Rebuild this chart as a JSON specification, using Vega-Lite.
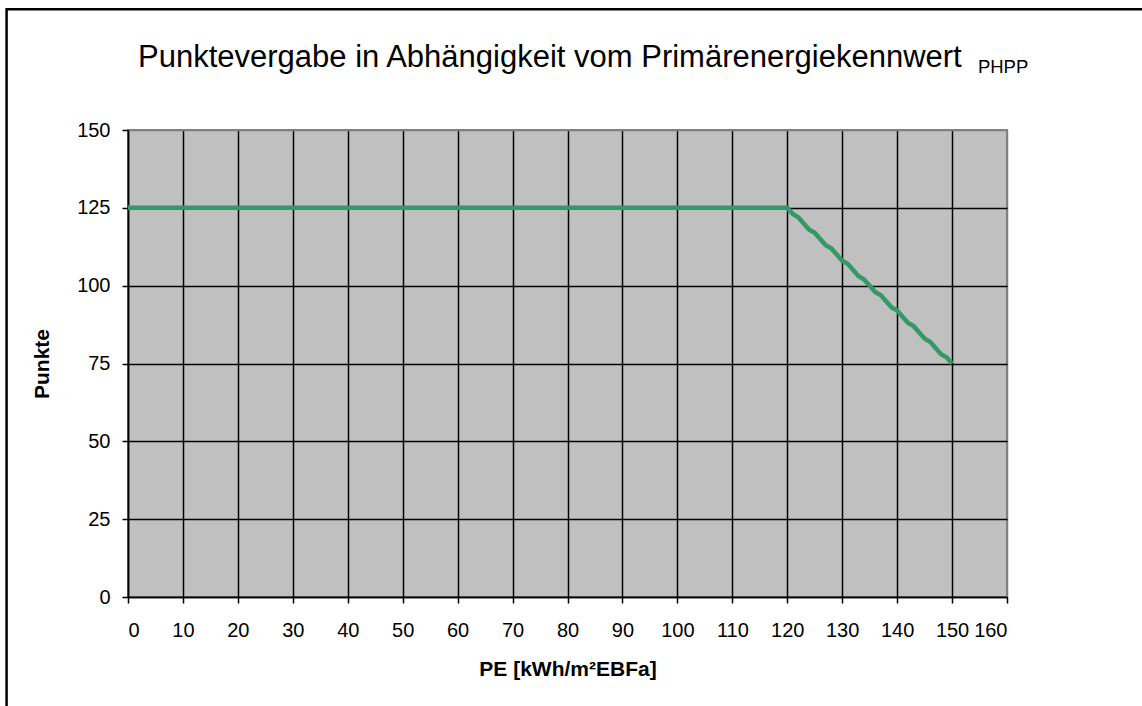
{
  "$schema": "https://vega.github.io/schema/vega-lite/v6.json",
  "width": 879,
  "height": 467,
  "autosize": {"type": "none"},
  "padding": {"left": 128, "top": 130, "right": 135, "bottom": 109},
  "background": "white",
  "title": {
    "text": "Punktevergabe in Abhängigkeit vom Primärenergiekennwert",
    "anchor": "start",
    "frame": "group",
    "dx": 10,
    "fontSize": 31,
    "fontWeight": "normal",
    "font": "Liberation Sans",
    "color": "black",
    "baseline": "alphabetic",
    "offset": -90.5
  },
  "config": {
    "font": "Liberation Sans",
    "view": {"fill": "#C0C0C0", "stroke": "#808080", "strokeWidth": 2},
    "axis": {
      "labelFont": "Liberation Sans",
      "labelFontSize": 20,
      "labelColor": "black",
      "titleFont": "Liberation Sans",
      "titleFontSize": 21,
      "titleFontWeight": "bold",
      "titleColor": "black",
      "domainColor": "black",
      "domainWidth": 1.5,
      "tickColor": "black",
      "tickWidth": 1.5,
      "tickSize": 6,
      "gridWidth": 1.5
    }
  },
  "data": {
    "values": [
      {"PE": 0, "Punkte": 125},
      {"PE": 10, "Punkte": 125},
      {"PE": 20, "Punkte": 125},
      {"PE": 30, "Punkte": 125},
      {"PE": 40, "Punkte": 125},
      {"PE": 50, "Punkte": 125},
      {"PE": 60, "Punkte": 125},
      {"PE": 70, "Punkte": 125},
      {"PE": 80, "Punkte": 125},
      {"PE": 90, "Punkte": 125},
      {"PE": 100, "Punkte": 125},
      {"PE": 110, "Punkte": 125},
      {"PE": 120, "Punkte": 125},
      {"PE": 121, "Punkte": 123},
      {"PE": 122, "Punkte": 122},
      {"PE": 123, "Punkte": 120},
      {"PE": 124, "Punkte": 118},
      {"PE": 125, "Punkte": 117},
      {"PE": 126, "Punkte": 115},
      {"PE": 127, "Punkte": 113},
      {"PE": 128, "Punkte": 112},
      {"PE": 129, "Punkte": 110},
      {"PE": 130, "Punkte": 108},
      {"PE": 131, "Punkte": 107},
      {"PE": 132, "Punkte": 105},
      {"PE": 133, "Punkte": 103},
      {"PE": 134, "Punkte": 102},
      {"PE": 135, "Punkte": 100},
      {"PE": 136, "Punkte": 98},
      {"PE": 137, "Punkte": 97},
      {"PE": 138, "Punkte": 95},
      {"PE": 139, "Punkte": 93},
      {"PE": 140, "Punkte": 92},
      {"PE": 141, "Punkte": 90},
      {"PE": 142, "Punkte": 88},
      {"PE": 143, "Punkte": 87},
      {"PE": 144, "Punkte": 85},
      {"PE": 145, "Punkte": 83},
      {"PE": 146, "Punkte": 82},
      {"PE": 147, "Punkte": 80},
      {"PE": 148, "Punkte": 78},
      {"PE": 149, "Punkte": 77},
      {"PE": 150, "Punkte": 75}
    ]
  },
  "layer": [
    {
      "mark": {"type": "line", "color": "#339966", "strokeWidth": 4.5, "clip": false},
      "encoding": {
        "x": {
          "field": "PE",
          "type": "quantitative",
          "scale": {"domain": [0, 160], "nice": false, "zero": false},
          "axis": {
            "title": "PE [kWh/m²EBFa]",
            "values": [0, 10, 20, 30, 40, 50, 60, 70, 80, 90, 100, 110, 120, 130, 140, 150, 160],
            "labelPadding": 17,
            "titlePadding": 18,
            "gridColor": {"condition": {"test": "datum.value === 160", "value": "#808080"}, "value": "black"}
          }
        },
        "y": {
          "field": "Punkte",
          "type": "quantitative",
          "scale": {"domain": [0, 150], "nice": false, "zero": false},
          "axis": {
            "title": "Punkte",
            "values": [0, 25, 50, 75, 100, 125, 150],
            "labelPadding": 12,
            "titlePadding": 24,
            "gridColor": {"condition": {"test": "datum.value === 150", "value": "#808080"}, "value": "black"}
          }
        }
      }
    },
    {
      "data": {"values": [{"t": "PHPP"}]},
      "mark": {"type": "text", "align": "left", "baseline": "alphabetic", "fontSize": 18.5, "font": "Liberation Sans", "color": "black", "clip": false},
      "encoding": {
        "text": {"field": "t"},
        "x": {"datum": 154.7, "type": "quantitative", "title": "PE [kWh/m²EBFa]"},
        "y": {"datum": 168.2, "type": "quantitative", "title": "Punkte"}
      }
    },
    {
      "data": {"values": [{"frame": "outer"}]},
      "mark": {"type": "rect", "fillOpacity": 0, "stroke": "black", "strokeWidth": 2.5, "clip": false},
      "encoding": {
        "x": {"datum": -22.1, "type": "quantitative", "title": "PE [kWh/m²EBFa]"},
        "x2": {"datum": 200},
        "y": {"datum": 188.8, "type": "quantitative", "title": "Punkte"},
        "y2": {"datum": -50}
      }
    }
  ]
}
